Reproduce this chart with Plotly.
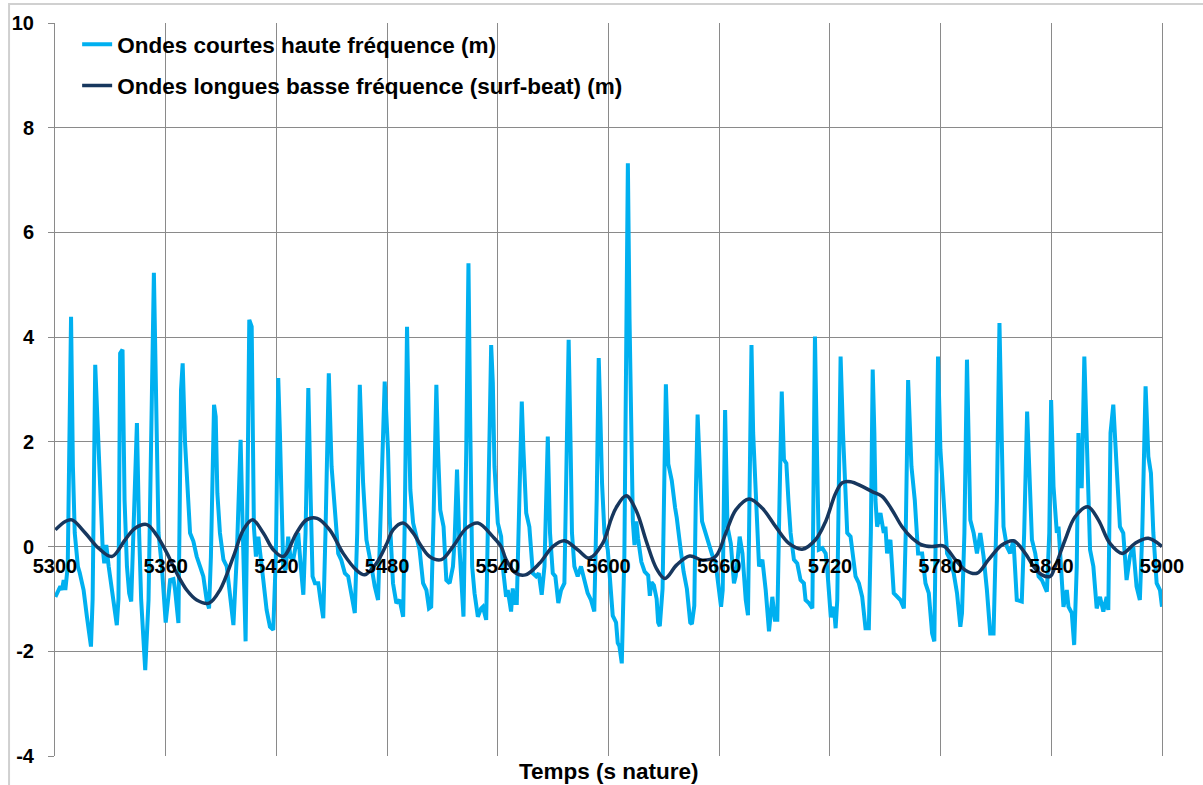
import plotly.graph_objects as go

# Short waves (high frequency) - time (s) and elevation (m)
sw_t = [5300.2, 5301.1, 5302.9, 5303.8, 5304.7, 5305.6, 5306.9, 5308.7, 5309.7, 5310.7,
        5312.4, 5313.4, 5315.5, 5317.3, 5319.5, 5320.4, 5321.8, 5323.3, 5324.5, 5325.8,
        5326.7, 5327.8, 5329.1, 5330.8, 5333.5, 5334.4, 5335.3, 5336.6, 5337.7, 5339.0,
        5340.2, 5341.3, 5342.6, 5344.4, 5345.6, 5346.7, 5348.9, 5350.7, 5353.6, 5355.0,
        5356.1, 5357.9, 5360.0, 5362.4, 5364.2, 5365.1, 5366.9, 5368.3, 5369.2, 5370.5,
        5371.8, 5373.2, 5375.0, 5376.8, 5378.6, 5380.4, 5382.2, 5383.5, 5384.5, 5386.2,
        5387.1, 5388.0, 5389.4, 5391.3, 5393.1, 5394.8, 5396.7, 5398.5, 5400.6, 5401.7,
        5403.3, 5404.4, 5405.3, 5406.6, 5407.8, 5408.9, 5410.2, 5412.9, 5414.7, 5416.5,
        5418.3, 5419.7, 5421.0, 5421.9, 5422.8, 5423.7, 5425.0, 5426.4, 5427.6, 5429.1,
        5430.4, 5431.8, 5433.2, 5434.6, 5435.8, 5437.3, 5438.6, 5439.6, 5440.9, 5442.7,
        5443.9, 5445.4, 5446.6, 5448.4, 5449.9, 5451.6, 5453.5, 5455.2, 5457.1, 5458.9,
        5460.7, 5462.5, 5463.8, 5465.2, 5467.0, 5468.8, 5471.5, 5473.3, 5475.1, 5476.3,
        5478.7, 5480.5, 5481.4, 5483.2, 5485.0, 5486.8, 5487.7, 5488.7, 5489.6, 5490.8,
        5491.7, 5492.6, 5494.1, 5495.8, 5497.6, 5499.5, 5501.3, 5502.7, 5503.9, 5505.2,
        5506.7, 5507.6, 5508.8, 5510.6, 5512.1, 5513.9, 5515.7, 5516.6, 5517.9, 5519.3,
        5521.4, 5522.9, 5524.1, 5525.0, 5526.1, 5527.4, 5529.2, 5531.0, 5531.9, 5533.7,
        5535.0, 5536.4, 5537.3, 5538.2, 5540.0, 5541.8, 5542.7, 5544.5, 5545.4, 5546.3,
        5547.2, 5548.1, 5549.0, 5550.3, 5551.4, 5553.0, 5553.9, 5555.4, 5557.1, 5559.0,
        5560.8, 5562.2, 5563.8, 5565.3, 5567.1, 5568.3, 5569.8, 5571.2, 5572.8, 5574.3,
        5576.1, 5577.3, 5578.4, 5579.5, 5580.2, 5581.5, 5583.3, 5585.1, 5586.9, 5588.7,
        5590.5, 5592.3, 5593.6, 5594.7, 5595.6, 5596.5, 5597.8, 5599.6, 5600.5, 5602.3,
        5604.1, 5605.0, 5605.9, 5607.2, 5608.6, 5610.5, 5611.4, 5612.3, 5613.2, 5614.1,
        5615.1, 5616.0, 5617.8, 5619.6, 5621.5, 5622.4, 5623.3, 5624.6, 5626.1, 5626.9,
        5627.8, 5629.3, 5631.1, 5632.4, 5634.3, 5636.1, 5637.0, 5638.8, 5640.7, 5642.5,
        5644.3, 5645.2, 5646.5, 5647.4, 5648.3, 5650.7, 5653.4, 5656.2, 5658.0, 5661.0,
        5661.9, 5663.2, 5664.5, 5666.3, 5668.0, 5668.9, 5669.8, 5671.1, 5672.6, 5674.4,
        5675.6, 5676.5, 5677.5, 5678.4, 5678.9, 5680.2, 5681.6, 5683.4, 5685.2, 5687.0,
        5688.8, 5690.2, 5691.5, 5692.7, 5693.9, 5695.1, 5696.4, 5697.5, 5698.7, 5700.5,
        5702.3, 5704.1, 5705.9, 5706.8, 5708.6, 5710.5, 5711.2, 5711.9, 5712.8, 5714.0,
        5715.9, 5717.7, 5718.5, 5720.5, 5722.2, 5723.1, 5724.0, 5724.9, 5725.8, 5727.1,
        5728.5, 5729.4, 5731.2, 5733.0, 5733.9, 5735.7, 5737.5, 5739.3, 5741.1, 5742.2,
        5743.2, 5744.1, 5744.7, 5745.6, 5747.4, 5749.2, 5750.1, 5751.0, 5752.8, 5754.6,
        5756.4, 5758.2, 5760.1, 5761.1, 5762.4, 5764.2, 5766.0, 5767.8, 5770.0, 5771.8,
        5773.6, 5775.4, 5776.6, 5777.7, 5778.6, 5779.9, 5781.7, 5783.5, 5785.3, 5787.1,
        5788.9, 5789.8, 5790.7, 5791.6, 5792.9, 5794.3, 5795.2, 5796.1, 5797.9, 5799.7,
        5801.5, 5803.3, 5805.1, 5806.9, 5808.7, 5810.5, 5811.9, 5813.2, 5814.1, 5815.9,
        5817.7, 5819.5, 5821.3, 5824.0, 5825.3, 5826.9, 5828.1, 5829.5, 5831.3, 5833.1,
        5834.9, 5837.6, 5838.9, 5839.9, 5841.2, 5843.0, 5843.9, 5844.8, 5846.6, 5848.4,
        5849.3, 5851.1, 5852.4, 5853.8, 5854.7, 5855.6, 5856.5, 5857.9, 5859.2, 5861.0,
        5862.8, 5864.6, 5866.4, 5868.2, 5870.0, 5870.9, 5872.1, 5873.6, 5875.4, 5877.2,
        5879.0, 5880.8, 5882.6, 5884.4, 5886.2, 5888.0, 5889.3, 5891.1, 5892.6, 5894.0,
        5895.3, 5897.1, 5898.9, 5900.0]
sw_h = [-0.96, -0.89, -0.76, -0.83, -0.64, -0.83, -0.38, 4.39, 1.53, 0.26,
        -0.38, -0.50, -0.83, -1.34, -1.91, -1.00, 3.47, 2.17, 0.89, 0.00,
        -0.32, 0.03, -0.38, -0.83, -1.50, -1.00, 3.69, 3.76, 0.89, -0.38,
        -0.89, -1.05, 0.26, 2.36, 0.26, -1.02, -2.36, -1.02, 5.23, 2.00,
        0.26, -0.38, -1.45, -0.64, -0.62, -0.83, -1.46, 2.99, 3.50, 1.98,
        1.02, 0.26, 0.10, -0.19, -0.38, -0.57, -1.02, -1.18, -0.20, 2.71,
        2.48, 1.02, 0.26, -0.25, -0.38, -0.96, -1.50, -0.20, 2.04, 0.40,
        -1.81, 1.30, 4.33, 4.20, 0.38, -0.19, 0.19, -0.64, -1.21, -1.53,
        -1.59, -0.20, 3.22, 2.17, 0.89, -0.38, -0.45, 0.19, -0.20, -0.26,
        0.00, 0.26, -0.38, -0.92, 0.26, 3.03, 0.89, -0.57, -0.70, -0.70,
        -1.02, -1.37, 0.26, 3.31, 1.53, 0.76, -0.13, -0.26, -0.51, -0.57,
        -0.96, -1.27, 0.26, 3.09, 1.21, 0.13, -0.38, -0.76, -1.02, 0.26,
        3.15, 1.85, 0.57, -0.70, -1.08, -1.02, -1.15, -1.34, 0.57, 4.20,
        2.48, 1.08, 0.45, 0.19, -0.06, -0.70, -0.83, -1.18, -1.15, 0.57,
        3.09, 1.85, 0.70, 0.38, -0.64, -0.70, -0.38, 0.13, 1.47, -0.06,
        -1.34, 1.85, 5.41, 2.48, -0.38, -0.89, -1.34, -1.18, -1.15, -1.40,
        1.20, 3.85, 3.13, 1.53, 0.45, 0.19, -0.38, -0.96, -0.83, -1.02,
        -1.24, -0.80, -1.08, -1.08, 0.26, 2.77, 1.85, 0.64, 0.38, -0.51,
        -0.57, -0.51, -0.92, -0.38, 2.10, 0.26, -0.51, -0.57, -1.08, -0.83,
        -0.70, 1.53, 3.95, 1.85, 0.26, -0.38, -0.57, -0.38, -0.64, -0.89,
        -1.02, -1.24, 0.89, 3.60, 2.48, 1.21, 0.26, -0.06, -0.48, -1.32,
        -1.45, -1.84, -1.90, -2.23, -0.16, 7.32, 4.35, 1.77, 0.48, 0.03,
        0.48, 0.16, -0.29, -0.48, -0.55, -0.94, -0.68, -0.74, -1.00, -1.45,
        -1.52, -0.81, 3.10, 1.58, 1.26, 0.74, 0.55, 0.03, -0.48, -0.81,
        -1.45, -1.48, -1.13, 1.13, 2.52, 0.48, 0.16, -0.16, -0.30, -1.15,
        -0.83, 2.61, 0.38, 0.06, -0.70, -0.57, -0.32, 0.19, -0.13, -1.02,
        -1.31, 0.89, 3.85, 2.17, 1.78, 0.38, -0.38, -0.25, -0.83, -1.62,
        -0.96, -1.40, -1.40, 0.89, 2.96, 1.66, 1.59, 0.89, 0.26, -0.25,
        -0.32, -0.64, -0.70, -1.02, -1.08, -1.18, 0.89, 4.01, 2.17, -0.06,
        -0.03, -0.13, -0.40, -1.35, -1.15, -1.56, -1.02, 1.53, 3.63, 2.17,
        0.89, 0.26, 0.19, -0.38, -0.57, -0.70, -0.96, -1.56, -1.56, 0.26,
        3.38, 2.17, 0.89, 0.38, 0.64, 0.26, 0.38, -0.13, 0.13, -0.89,
        -0.96, -1.02, -1.18, 0.26, 3.18, 1.53, 0.89, -0.13, -0.13, -0.70,
        -0.89, -1.66, -1.81, 0.89, 3.63, 1.85, 0.76, -0.13, -0.26, -0.51,
        -0.89, -1.27, -1.53, -1.27, 0.26, 3.57, 2.17, 0.51, 0.26, -0.13,
        0.26, -0.19, -0.83, -1.66, -1.66, 0.89, 4.27, 2.17, 0.38, 0.00,
        -0.13, 0.13, -1.02, -1.05, 0.26, 2.58, 1.53, 0.13, -0.13, -0.57,
        -0.64, -0.86, 0.26, 2.80, 1.15, 0.26, 0.38, -0.06, -1.15, -0.83,
        -1.15, -1.27, -1.88, -0.38, 2.17, 1.15, 1.15, 3.63, 1.98, -0.06,
        -0.38, -1.18, -0.96, -1.24, -0.96, -1.21, 2.17, 2.71, 1.53, 0.38,
        0.26, -0.64, -0.19, 0.00, -0.76, -1.02, 0.26, 3.06, 1.72, 1.40,
        0.26, -0.70, -0.83, -1.15]

# Long waves (surf-beat) - time (s) and elevation (m)
lw_t = [5300.2, 5305.6, 5309.2, 5316.4, 5323.6, 5330.8, 5338.0, 5343.4, 5349.8, 5355.0,
        5360.6, 5366.0, 5371.4, 5376.8, 5383.5, 5389.4, 5396.7, 5402.1, 5407.1, 5412.9,
        5418.3, 5423.7, 5430.9, 5436.3, 5442.1, 5448.9, 5456.2, 5463.4, 5467.9, 5474.2,
        5480.0, 5483.2, 5488.7, 5494.1, 5497.6, 5503.0, 5509.4, 5515.7, 5522.9, 5529.2,
        5537.3, 5541.8, 5544.5, 5549.9, 5555.0, 5562.6, 5569.8, 5576.1, 5583.3, 5589.6,
        5596.8, 5601.3, 5604.1, 5609.6, 5615.1, 5620.5, 5626.0, 5630.6, 5637.0, 5644.0,
        5651.0, 5658.0, 5663.6, 5669.0, 5676.2, 5683.4, 5690.6, 5697.8, 5705.0, 5712.2,
        5717.7, 5723.1, 5726.7, 5731.2, 5737.5, 5742.9, 5748.3, 5753.7, 5759.1, 5764.6,
        5770.0, 5775.4, 5781.7, 5788.0, 5793.4, 5799.7, 5806.0, 5813.2, 5819.5, 5825.9,
        5830.4, 5834.9, 5839.4, 5842.1, 5847.5, 5852.9, 5859.8, 5865.5, 5871.8, 5878.5,
        5885.3, 5892.6, 5900.0]
lw_h = [0.32, 0.48, 0.51, 0.26, -0.03, -0.19, 0.13, 0.35, 0.42, 0.22,
        -0.12, -0.51, -0.83, -1.02, -1.08, -0.83, -0.19, 0.32, 0.51, 0.26,
        -0.06, -0.19, 0.26, 0.51, 0.54, 0.32, -0.13, -0.45, -0.54, -0.32,
        0.07, 0.32, 0.45, 0.26, 0.06, -0.19, -0.25, 0.00, 0.35, 0.45,
        0.19, 0.00, -0.25, -0.51, -0.54, -0.32, 0.00, 0.11, -0.06, -0.22,
        0.06, 0.51, 0.74, 0.97, 0.68, 0.10, -0.42, -0.61, -0.35, -0.18,
        -0.26, -0.19, 0.26, 0.70, 0.91, 0.73, 0.38, 0.06, -0.05, 0.13,
        0.48, 1.02, 1.22, 1.24, 1.15, 1.05, 0.96, 0.70, 0.38, 0.16,
        0.03, 0.00, 0.01, -0.25, -0.45, -0.51, -0.25, 0.03, 0.11, -0.13,
        -0.38, -0.54, -0.57, -0.38, 0.13, 0.57, 0.76, 0.51, 0.06, -0.13,
        0.06, 0.16, 0.00]

x_ticks = [5300, 5360, 5420, 5480, 5540, 5600, 5660, 5720, 5780, 5840, 5900]
y_ticks = [-4, -2, 0, 2, 4, 6, 8, 10]
y_tick_text = ["-4", "-2", "0", "2", "4", "6", "8", "10"]

series_names = ["Ondes courtes haute fréquence (m)",
                "Ondes longues basse fréquence (surf-beat) (m)"]
axis_title = "Temps (s nature)"

FONT = "Liberation Sans, Arial, sans-serif"
GRID = "#8A8A8A"

fig = go.Figure()
fig.add_trace(go.Scatter(x=sw_t, y=sw_h, mode="lines", name=series_names[0],
                         legendgroup="a",
                         line=dict(color="#00B0F0", width=4)))
fig.add_trace(go.Scatter(x=lw_t, y=lw_h, mode="lines", name=series_names[1],
                         legendgroup="b",
                         line=dict(color="#17375E", width=3.5, shape="spline",
                                   smoothing=1.0)))

y_min, y_max = y_ticks[0], y_ticks[-1]

fig.update_layout(
    width=1203, height=785,
    margin=dict(l=53, r=41, t=23, b=29),
    paper_bgcolor="white", plot_bgcolor="white",
    font=dict(family=FONT, color="black"),
    showlegend=True,
    legend=dict(x=0.02, y=1.0, xanchor="left", yanchor="top",
                bgcolor="rgba(0,0,0,0)", borderwidth=0,
                font=dict(size=22.5, family=FONT, weight="bold", color="black"),
                tracegroupgap=9, itemwidth=30),
    xaxis=dict(range=[x_ticks[0], x_ticks[-1]], tickvals=x_ticks,
               showgrid=True, gridcolor=GRID, gridwidth=1,
               zeroline=False, showline=False, ticks="",
               anchor="free", position=(0 - y_min) / (y_max - y_min),
               tickfont=dict(size=20, family=FONT, weight="bold", color="black"),
               ticklabelstandoff=5),
    yaxis=dict(range=[y_min, y_max], tickvals=y_ticks, ticktext=y_tick_text,
               showgrid=True, gridcolor=GRID, gridwidth=1,
               zeroline=False, showline=True, linecolor=GRID, linewidth=1,
               mirror=True,
               ticks="outside", ticklen=6, tickcolor=GRID,
               tickfont=dict(size=20, family=FONT, weight="bold", color="black"),
               ticklabelstandoff=10),
    annotations=[dict(text=axis_title, xref="paper", yref="paper",
                      x=0.5, y=-0.0215, xanchor="center", yanchor="middle",
                      showarrow=False,
                      font=dict(size=22.5, family=FONT, weight="bold", color="black"))],
    shapes=[dict(type="rect", xref="paper", yref="paper",
                 x0=-0.0415, x1=1.2, y0=-0.2, y1=1.026,
                 line=dict(color="#D0D0D0", width=2), layer="below")],
)

fig.write_html("out.html")
